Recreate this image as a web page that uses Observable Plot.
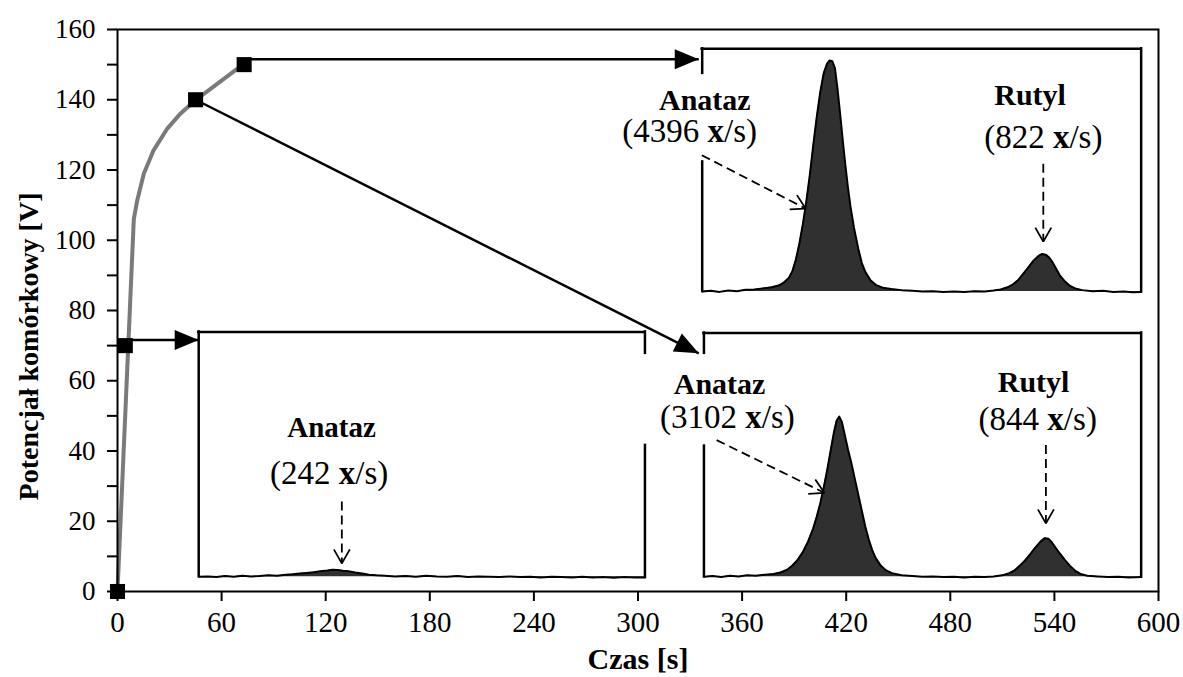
<!DOCTYPE html>
<html>
<head>
<meta charset="utf-8">
<script src="https://cdn.jsdelivr.net/npm/d3@7"></script>
<script src="https://cdn.jsdelivr.net/npm/@observablehq/plot@0.6"></script>
<style>
  html, body { margin: 0; padding: 0; background: #fff; }
</style>
</head>
<body>
<div id="chart"></div>
<script>
// ---------- data ----------
const xTicks = [0, 60, 120, 180, 240, 300, 360, 420, 480, 540, 600];
const yTicks = [0, 20, 40, 60, 80, 100, 120, 140, 160];
const yMinorTicks = [10, 30, 50, 70, 90, 110, 130, 150];

// cell potential vs time (gray curve)
const potentialCurve = [[0,0],[9.4,106],[11.4,111.4],[15.2,119],[20.8,125.6],[28.7,131.8],[36.4,136.1],[45,139.9],[73,150.3]];
// sampled points (black squares)
const samplePoints = [[0,0],[4.5,70],[45,140],[73,150]];

// XRD pattern insets (drawn in chart coordinates)
const insetBoxes = [
  {sample: "70 V",  x1: 46.8, x2: 304, top: 73.9,  base: 4.2},
  {sample: "140 V", x1: 338,  x2: 590, top: 73.6,  base: 4.2},
  {sample: "150 V", x1: 337,  x2: 590, top: 154.5, base: 85.4}
];
const insetEdges = [
  {x: 46.8, y1: 4.2,  y2: 73.9},
  {x: 304,  y1: 67.8, y2: 73.9}, {x: 304, y1: 4.0, y2: 41.6},
  {x: 338,  y1: 67.8, y2: 73.6}, {x: 338, y1: 4.2, y2: 41.4},
  {x: 590,  y1: 4.1,  y2: 73.6},
  {x: 337,  y1: 147.5, y2: 154.5}, {x: 337, y1: 85.4, y2: 122.3},
  {x: 590,  y1: 85.3, y2: 154.5}
];

const pattern70V = [[47,4.2],[52,4.3],[57,4.1],[62,4.4],[67,4.2],[72,4.5],[77,4.3],[82,4.4],[87,4.6],[92,4.5],[97,4.8],[101,4.9],[105,5.1],[109,5.3],[113,5.5],[117,5.8],[121,6.0],[124,6.2],[127,6.1],[130,5.9],[133,5.8],[137,5.4],[141,5.1],[145,4.8],[149,4.6],[154,4.5],[160,4.3],[166,4.4],[172,4.2],[178,4.5],[184,4.3],[190,4.2],[196,4.4],[202,4.1],[208,4.3],[214,4.2],[220,4.1],[226,4.3],[232,4.1],[238,4.2],[244,4.0],[250,4.2],[256,4.1],[262,4.0],[268,4.2],[274,4.0],[280,4.1],[286,3.9],[292,4.1],[298,4.0],[304,4.0]];

const pattern140V = [[338,4.2],[343,4.4],[348,4.1],[353,4.5],[358,4.3],[363,4.6],[368,4.5],[373,4.8],[378,5.0],[382,5.4],[386,6.2],[389,7.4],[392,9.0],[395,11.2],[398,14.2],[401,18],[403,21.3],[405,25],[407,29.5],[409,34.5],[411,40],[413,45.5],[414.5,48.7],[416,49.8],[417.5,48.3],[419,45],[421,40.5],[423,36.5],[425,32],[427,27.5],[429,23],[431,18.5],[433,14.8],[435,11.8],[437,9.5],[440,7.3],[443,6.0],[447,5.1],[452,4.6],[458,4.4],[464,4.2],[470,4.3],[476,4.1],[482,4.2],[488,4.0],[494,4.2],[500,4.1],[505,4.3],[510,4.6],[514,5.2],[517,6.0],[520,7.3],[523,8.8],[526,10.6],[529,12.5],[532,14.2],[534.5,15.2],[536.5,15.0],[538.5,14.0],[540.5,12.6],[543,10.9],[546,9.0],[549,7.3],[552,5.9],[555,5.0],[559,4.5],[565,4.3],[571,4.1],[577,4.2],[583,4.0],[590,4.1]];

const pattern150V = [[337,85.4],[342,85.6],[347,85.3],[352,85.7],[357,85.5],[362,85.9],[367,86.0],[372,86.3],[377,86.6],[381,87.1],[384,87.9],[387,89.3],[389,91.2],[391,94.5],[393,99],[395,104.5],[397,111],[399,118.5],[401,127],[403,135],[405,142],[407,147.5],[409,150.3],[410.5,151.2],[412,151],[413.5,149],[415,143],[416.5,136],[418,128.5],[419.5,121.5],[421,115],[422.5,109.5],[424.5,103.5],[427,97.5],[429,93.5],[431,91],[434,88.6],[437,87.3],[441,86.5],[446,86.1],[452,85.8],[458,85.6],[464,85.4],[470,85.5],[476,85.3],[482,85.4],[488,85.3],[494,85.5],[500,85.4],[505,85.7],[509,86.0],[513,86.6],[516,87.4],[519,88.6],[522,90.4],[525,92.3],[528,94.2],[531,95.6],[533,96.1],[535,95.9],[537,95.1],[539,93.7],[541,91.9],[543,90.1],[546,88.3],[549,87.0],[552,86.3],[556,85.8],[562,85.5],[568,85.6],[574,85.3],[580,85.4],[585,85.2],[590,85.3]];

const phaseLabels = [
  {x: 123.4, y: 46.7,  text: "Anataz", size: 29},
  {x: 347,   y: 59.1,  text: "Anataz", size: 30},
  {x: 528,   y: 59.6,  text: "Rutyl",  size: 30},
  {x: 338.5, y: 139.8, text: "Anataz", size: 30},
  {x: 526,   y: 141.2, text: "Rutyl",  size: 30}
];
const countLabels = [
  {x: 122,   y: 33.6,  count: "242"},
  {x: 351.5, y: 49.6,  count: "3102"},
  {x: 530.4, y: 48.9,  count: "844"},
  {x: 329.8, y: 131.1, count: "4396"},
  {x: 533.6, y: 129.4, count: "822"}
];

const solidArrows = [
  {x1: 4.5, y1: 71.6,  x2: 46.8, y2: 71.6},
  {x1: 45,  y1: 140,   x2: 335,  y2: 67.8},
  {x1: 73,  y1: 151.5, x2: 335,  y2: 151.5}
];
const dashedArrows = [
  {x1: 129.3, y1: 25.6,  x2: 129.3, y2: 8.0},
  {x1: 345.3, y1: 43.1,  x2: 407.4, y2: 28.1},
  {x1: 535.1, y1: 41.7,  x2: 535.1, y2: 19.4},
  {x1: 336.8, y1: 124.2, x2: 396.7, y2: 109.0},
  {x1: 533.6, y1: 121.8, x2: 533.6, y2: 99.6}
];

// ---------- markers ----------
function filledHead() {
  const m = d3.create("svg:marker")
    .attr("viewBox", "-24 -10 25 20")
    .attr("markerWidth", 25).attr("markerHeight", 20)
    .attr("markerUnits", "userSpaceOnUse")
    .attr("orient", "auto")
    .attr("overflow", "visible");
  m.append("path").attr("d", "M-24,-10L0,0L-24,10Z").attr("fill", "black").attr("stroke", "none");
  return m.node();
}
function openHead() {
  const m = d3.create("svg:marker")
    .attr("viewBox", "-16 -9 18 18")
    .attr("markerWidth", 18).attr("markerHeight", 18)
    .attr("markerUnits", "userSpaceOnUse")
    .attr("orient", "auto")
    .attr("overflow", "visible");
  m.append("path").attr("d", "M-14,-8L0,0L-14,8")
    .attr("fill", "none").attr("stroke", "black").attr("stroke-width", 1.8)
    .attr("stroke-dasharray", "none").attr("stroke-linejoin", "miter");
  return m.node();
}

const serif = "'Liberation Serif', 'Times New Roman', serif";
const px = d => d[0], py = d => d[1];

const traceMarks = [];
[[pattern70V, insetBoxes[0]], [pattern140V, insetBoxes[1]], [pattern150V, insetBoxes[2]]].forEach(([pat, box]) => {
  traceMarks.push(Plot.areaY(pat, {x: px, y1: box.base, y2: py, fill: "#303030"}));
  traceMarks.push(Plot.line(pat, {x: px, y: py, stroke: "black", strokeWidth: 2}));
});

const chart = Plot.plot({
  width: 1183,
  height: 677,
  marginLeft: 117,
  marginRight: 25,
  marginTop: 29,
  marginBottom: 86,
  style: {fontFamily: serif, background: "white", color: "black", overflow: "visible"},
  x: {domain: [0, 600]},
  y: {domain: [0, 160]},
  marks: [
    Plot.axisY({ticks: yTicks, tickSize: 10, tickPadding: 12, fontSize: 27, label: null, strokeWidth: 2}),
    Plot.axisY({ticks: yMinorTicks, tickSize: 10, tickFormat: () => "", label: null, strokeWidth: 2}),
    Plot.axisX({ticks: xTicks, tickSize: 10, tickPadding: 10, fontSize: 29, label: null, strokeWidth: 2}),
    Plot.text(["Potencjał komórkowy [V]"], {text: d => d, frameAnchor: "left", textAnchor: "middle", lineAnchor: "middle", dx: -88, dy: 36, rotate: -90, fontSize: 28, fontWeight: "bold", fill: "black"}),
    Plot.text(["Czas [s]"], {text: d => d, frameAnchor: "bottom", textAnchor: "middle", lineAnchor: "middle", dy: 68, fontSize: 30, fontWeight: "bold", fill: "black"}),
    // inset boxes
    Plot.ruleY(insetBoxes, {y: "top", x1: "x1", x2: "x2", stroke: "black", strokeWidth: 2.5, strokeLinecap: "square"}),
    Plot.ruleX(insetEdges, {x: "x", y1: "y1", y2: "y2", stroke: "black", strokeWidth: 2.5, strokeLinecap: "square"}),
    ...traceMarks,
    // annotations
    Plot.text(phaseLabels, {x: "x", y: "y", text: "text", fontSize: d => d.size, fontWeight: "bold", fill: "black", lineAnchor: "middle"}),
    Plot.text(countLabels, {x: "x", y: "y", text: d => `(${d.count} x/s)`, fontSize: 33, fill: "black", lineAnchor: "middle"}),
    Plot.link(dashedArrows, {x1: "x1", y1: "y1", x2: "x2", y2: "y2", stroke: "black", strokeWidth: 1.8, strokeDasharray: "9,5", markerEnd: openHead}),
    Plot.link(solidArrows, {x1: "x1", y1: "y1", x2: "x2", y2: "y2", stroke: "black", strokeWidth: 2.5, markerEnd: filledHead}),
    // potential curve
    Plot.line(potentialCurve, {x: px, y: py, stroke: "#7a7a7a", strokeWidth: 4, strokeLinejoin: "round"}),
    Plot.dot(samplePoints, {x: px, y: py, symbol: "square", r: 8.5, fill: "black", stroke: "none"}),
    Plot.frame({stroke: "black", strokeWidth: 2})
  ]
});

// make the "x" of the count unit bold, as in the original figure
d3.select(chart).selectAll("text").each(function () {
  const t = this.textContent;
  const m = /^\((\d+) x\/s\)$/.exec(t);
  if (!m) return;
  const sel = d3.select(this);
  sel.text(null);
  sel.append("tspan").text(`(${m[1]} `);
  sel.append("tspan").attr("font-weight", "bold").text("x");
  sel.append("tspan").text("/s)");
});

document.getElementById("chart").appendChild(chart);
</script>
</body>
</html>
